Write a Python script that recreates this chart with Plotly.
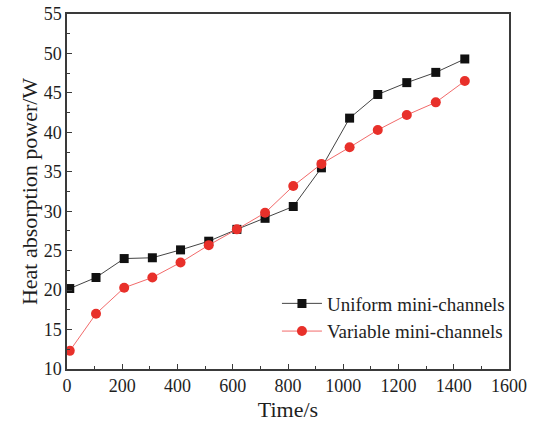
import plotly.graph_objects as go

# Sampling times (s)
time_s = [10, 105, 207, 309, 411, 513, 615, 717, 819, 921, 1023, 1125, 1230, 1335, 1440]

# Heat absorption power (W)
uniform_w = [20.2, 21.6, 24.0, 24.1, 25.1, 26.2, 27.7, 29.1, 30.6, 35.5, 41.8, 44.8, 46.3, 47.6, 49.3]
variable_w = [12.3, 17.0, 20.3, 21.6, 23.5, 25.7, 27.7, 29.8, 33.2, 36.0, 38.1, 40.3, 42.2, 43.8, 46.5]

series_names = ["Uniform mini-channels", "Variable mini-channels"]

FONT = "Liberation Serif, Times New Roman, serif"
AXIS_COLOR = "#3a3a3a"
TEXT_COLOR = "#1e1e1e"

fig = go.Figure()
fig.add_trace(go.Scatter(
    x=time_s, y=uniform_w, name=series_names[0], mode="lines+markers",
    line=dict(color="#444444", width=1),
    marker=dict(symbol="square", size=9, color="#111111"),
))
fig.add_trace(go.Scatter(
    x=time_s, y=variable_w, name=series_names[1], mode="lines+markers",
    line=dict(color="#f26a6a", width=1),
    marker=dict(symbol="circle", size=10, color="#e8302a"),
))

axis_common = dict(
    automargin=False,
    showline=True, linecolor=AXIS_COLOR, linewidth=1.5, mirror=True,
    showgrid=False, zeroline=False,
    ticks="inside", ticklen=5, tickwidth=1, tickcolor=AXIS_COLOR,
    tickfont=dict(family=FONT, size=18, color=TEXT_COLOR),
)

fig.update_xaxes(
    range=[0, 1600], dtick=200, tick0=0,
    minor=dict(ticks="inside", ticklen=3, dtick=100, tickcolor=AXIS_COLOR),
    title=dict(text="Time/s", font=dict(family=FONT, size=22, color=TEXT_COLOR), standoff=6),
    **axis_common,
)
fig.update_yaxes(
    range=[10, 55], dtick=5, tick0=10,
    minor=dict(ticks="inside", ticklen=3, dtick=2.5, tickcolor=AXIS_COLOR),
    title=dict(text="Heat absorption power/W", font=dict(family=FONT, size=22, color=TEXT_COLOR), standoff=0),
    **axis_common,
)

fig.update_layout(
    width=534, height=425,
    margin=dict(l=67, r=25, t=14, b=56),
    paper_bgcolor="white", plot_bgcolor="white",
    showlegend=True,
    legend=dict(
        x=0.475, y=0.145, xanchor="left", yanchor="middle",
        bgcolor="rgba(0,0,0,0)", borderwidth=0,
        font=dict(family=FONT, size=19, color=TEXT_COLOR),
        itemwidth=40, tracegroupgap=0,
    ),
)

fig.write_html("out.html")
